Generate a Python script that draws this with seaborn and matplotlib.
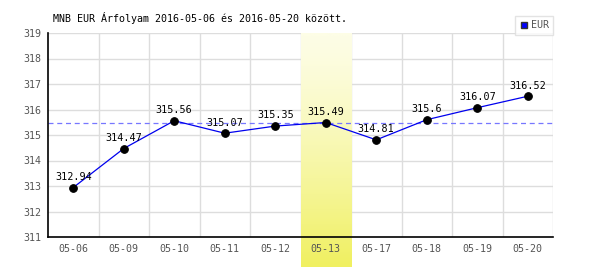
import numpy as np
import pandas as pd
import matplotlib
matplotlib.use("Agg")
import matplotlib.pyplot as plt
import seaborn as sns
from matplotlib.lines import Line2D
from matplotlib.colors import LinearSegmentedColormap

dates = ["05-06", "05-09", "05-10", "05-11", "05-12", "05-13", "05-17", "05-18", "05-19", "05-20"]
values = [312.94, 314.47, 315.56, 315.07, 315.35, 315.49, 314.81, 315.6, 316.07, 316.52]
value_labels = ["312.94", "314.47", "315.56", "315.07", "315.35", "315.49", "314.81", "315.6", "316.07", "316.52"]
highlight = "05-13"
reference = 315.49
title = "MNB EUR Árfolyam 2016-05-06 és 2016-05-20 között."
series_name = "EUR"

sns.set_style("white")
plt.rcParams['font.family'] = ['DejaVu Sans Mono']

df = pd.DataFrame({"date": dates, "value": values})

fig = plt.figure(figsize=(6, 2.7), dpi=100)
ax = fig.add_axes([48/600, 33/270, (553-48)/600, (237-33)/270])

n = len(dates)

# gridlines
for k in range(n):
    ax.axvline(k + 0.5, color="#dddddd", lw=1, zorder=0)
for yv in range(312, 320):
    ax.axhline(yv, color="#dddddd", lw=1, zorder=0)

# highlight gradient band
hi = dates.index(highlight)
grad = np.linspace(0, 1, 256).reshape(-1, 1) ** 1.3
cmap = LinearSegmentedColormap.from_list("y", ["#fdfde6", "#f0f060"])
ax.imshow(grad, cmap=cmap, aspect="auto", origin="upper",
          extent=(hi - 0.5, hi + 0.5, 311 - 8 * 30/204, 319),
          zorder=0.5, clip_on=False)
ax.set_xlim(-0.5, n - 0.5)
ax.set_ylim(311, 319)

# reference dashed line
ax.axhline(reference, color="#7777ff", lw=0.9, ls=(0, (4, 3)), zorder=1)

sns.lineplot(data=df, x="date", y="value", sort=False, ax=ax, color="#0000ee",
             lw=0.9, marker="o", markersize=5.5, markerfacecolor="black",
             markeredgecolor="black", zorder=3)

for i, (v, lab) in enumerate(zip(values, value_labels)):
    ax.text(i, v + 0.22, lab, ha="center", va="bottom", fontsize=7.3, color="black", zorder=4)

ax.set_xlim(-0.5, n - 0.5)
ax.set_ylim(311, 319)
ax.set_xticks(range(n))
ax.set_xticklabels(dates)
ax.set_yticks(range(311, 320))
ax.tick_params(axis="y", length=0, labelsize=7.2, colors="#555555", pad=4.5)
ax.tick_params(axis="x", length=0, labelsize=7.2, colors="#555555", pad=5)
ax.set_xlabel("")
ax.set_ylabel("")
for s in ["top", "right"]:
    ax.spines[s].set_visible(False)
ax.spines["left"].set_color("black")
ax.spines["bottom"].set_color("black")
ax.spines["left"].set_linewidth(1.2)
ax.spines["bottom"].set_linewidth(1.2)

fig.text(53/600, 1 - 18/270, title, fontsize=7.2, color="black", ha="left", va="center")

handle = Line2D([], [], marker="s", color="none", markerfacecolor="#0000ff",
                markeredgecolor="#333333", markersize=5)
leg = ax.legend([handle], [series_name], loc="upper right", bbox_to_anchor=(1.0, 1.085),
                frameon=True, fontsize=7.2, handlelength=0.8, handletextpad=0.3,
                borderpad=0.45, fancybox=False, labelcolor="#555555", borderaxespad=0)
leg.get_frame().set_edgecolor("#dddddd")
leg.get_frame().set_linewidth(1)

fig.savefig("out.png", dpi=100)
